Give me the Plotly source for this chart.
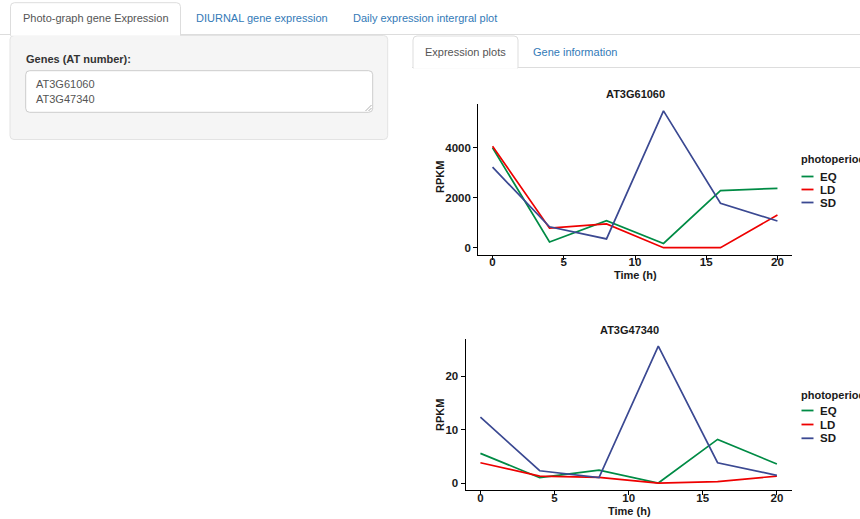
import plotly.graph_objects as go

# ---------------- data ----------------
hours = [0, 4, 8, 12, 16, 20]
photoperiods = ["EQ", "LD", "SD"]
genes = ["AT3G61060", "AT3G47340"]

gene1_EQ = [4010, 230, 1080, 170, 2290, 2380]
gene1_LD = [4070, 780, 950, 0, 0, 1310]
gene1_SD = [3230, 840, 350, 5490, 1780, 1070]

gene2_EQ = [5.55, 1.0, 2.43, 0.0, 8.15, 3.55]
gene2_LD = [3.8, 1.3, 1.05, 0.0, 0.25, 1.3]
gene2_SD = [12.3, 2.3, 1.0, 25.6, 3.8, 1.43]

x_ticks = [0, 5, 10, 15, 20]
y1_ticks = [0, 2000, 4000]
y2_ticks = [0, 10, 20]

main_tabs = ["Photo-graph gene Expression", "DIURNAL gene expression", "Daily expression intergral plot"]
sub_tabs = ["Expression plots", "Gene information"]
input_label = "Genes (AT number):"

colors = {"EQ": "#008B45", "LD": "#EE0000", "SD": "#3B4992"}

W, H = 860, 519
FONT = "Liberation Sans, Arial, sans-serif"


def X(px):
    return px / W


def Y(py):
    return 1 - py / H


def rrect(x0, y0, x1, y1, r, top_only=False):
    # rounded rectangle path in paper coordinates (pixel inputs)
    rb = 0 if top_only else r
    p = f"M {X(x0 + r)},{Y(y0)} L {X(x1 - r)},{Y(y0)} Q {X(x1)},{Y(y0)} {X(x1)},{Y(y0 + r)} "
    p += f"L {X(x1)},{Y(y1 - rb)} "
    if rb:
        p += f"Q {X(x1)},{Y(y1)} {X(x1 - rb)},{Y(y1)} "
    p += f"L {X(x0 + rb)},{Y(y1)} "
    if rb:
        p += f"Q {X(x0)},{Y(y1)} {X(x0)},{Y(y1 - rb)} "
    p += f"L {X(x0)},{Y(y0 + r)} Q {X(x0)},{Y(y0)} {X(x0 + r)},{Y(y0)} Z"
    return p


def expand(vals):
    lo, hi = min(vals), max(vals)
    e = (hi - lo) * 0.05
    return [lo - e, hi + e]


fig = go.Figure()

series1 = {"EQ": gene1_EQ, "LD": gene1_LD, "SD": gene1_SD}
series2 = {"EQ": gene2_EQ, "LD": gene2_LD, "SD": gene2_SD}

for p in photoperiods:
    fig.add_trace(go.Scatter(x=hours, y=series1[p], mode="lines", name=p,
                             line=dict(color=colors[p], width=1.7),
                             xaxis="x", yaxis="y", showlegend=False))
for p in photoperiods:
    fig.add_trace(go.Scatter(x=hours, y=series2[p], mode="lines", name=p,
                             line=dict(color=colors[p], width=1.7),
                             xaxis="x2", yaxis="y2", showlegend=False))

all1 = gene1_EQ + gene1_LD + gene1_SD
all2 = gene2_EQ + gene2_LD + gene2_SD

tickfont = dict(family=FONT, size=11.5, color="#1a1a1a", weight="bold")
axis_common = dict(showline=True, linecolor="black", linewidth=1.2, ticks="outside",
                   ticklen=4, tickwidth=1.1, tickcolor="black", showgrid=False,
                   zeroline=False, tickfont=tickfont, mirror=False, fixedrange=True)

fig.update_layout(
    width=W, height=H, margin=dict(l=0, r=0, t=0, b=0),
    paper_bgcolor="white", plot_bgcolor="white", showlegend=False,
    font=dict(family=FONT),
    xaxis=dict(domain=[X(478.3), X(791.7)], range=expand(hours), tickvals=x_ticks,
               anchor="y", ticklabelstandoff=-7, **axis_common),
    yaxis=dict(domain=[Y(254.5), Y(104.0)], range=expand(all1), tickvals=y1_ticks,
               anchor="x", **axis_common),
    xaxis2=dict(domain=[X(465.6), X(791.7)], range=expand(hours), tickvals=x_ticks,
                anchor="y2", ticklabelstandoff=-7, **axis_common),
    yaxis2=dict(domain=[Y(489.9), Y(339.2)], range=expand(all2), tickvals=y2_ticks,
                anchor="x2", **axis_common),
)

shapes = []
ann = []


def text(x, y, s, size=11, color="#333", bold=False, xanchor="left", angle=0):
    ann.append(dict(x=X(x), y=Y(y), xref="paper", yref="paper", text=s, showarrow=False,
                    xanchor=xanchor, yanchor="middle", textangle=angle,
                    borderpad=0, borderwidth=0,
                    font=dict(family=FONT, size=size, color=color,
                              weight="bold" if bold else "normal")))


def line(x0, y0, x1, y1, color, width=1):
    shapes.append(dict(type="line", xref="paper", yref="paper", x0=X(x0), y0=Y(y0),
                       x1=X(x1), y1=Y(y1), line=dict(color=color, width=width)))


# ---- main tabs ----
line(0, 34.5, 860, 34.5, "#dddddd")
shapes.append(dict(type="path", xref="paper", yref="paper",
                   path=rrect(10.5, 2.7, 180.5, 35.5, 4, top_only=True),
                   fillcolor="white", line=dict(color="#dddddd", width=1), layer="below"))
line(11, 34.8, 180, 34.8, "white", 2)
text(22.5, 18.5, main_tabs[0], color="#555555")
text(196, 18.5, main_tabs[1], color="#337ab7")
text(353, 18.5, main_tabs[2], color="#337ab7")

# ---- well panel ----
shapes.append(dict(type="path", xref="paper", yref="paper",
                   path=rrect(10, 35.5, 387.7, 139.5, 4),
                   fillcolor="#f5f5f5", line=dict(color="#e3e3e3", width=1), layer="below"))
text(25.5, 59, input_label, color="#333333", bold=True)
shapes.append(dict(type="path", xref="paper", yref="paper",
                   path=rrect(25.7, 70.7, 372.7, 112.3, 4),
                   fillcolor="white", line=dict(color="#cccccc", width=1), layer="below"))
text(35.5, 84, genes[0], color="#555555")
text(35.5, 99.5, genes[1], color="#555555")
line(365.5, 111, 371.5, 105, "#999999", 0.8)
line(368.5, 111, 371.5, 108, "#999999", 0.8)

# ---- sub tabs ----
line(412, 67.5, 860, 67.5, "#dddddd")
shapes.append(dict(type="path", xref="paper", yref="paper",
                   path=rrect(413, 36, 518, 68, 4, top_only=True),
                   fillcolor="white", line=dict(color="#dddddd", width=1), layer="below"))
line(413.6, 67.8, 517.4, 67.8, "white", 2)
text(424.5, 51.5, sub_tabs[0], color="#555555")
text(533, 51.5, sub_tabs[1], color="#337ab7")

# ---- chart titles & axis titles ----
text(635, 94, genes[0], size=11, color="#1a1a1a", bold=True, xanchor="center")
text(629, 329.5, genes[1], size=11, color="#1a1a1a", bold=True, xanchor="center")
text(635, 275, "Time (h)", size=11, color="#1a1a1a", bold=True, xanchor="center")
text(629, 511, "Time (h)", size=11, color="#1a1a1a", bold=True, xanchor="center")
text(440, 177, "RPKM", size=11, color="#1a1a1a", bold=True, xanchor="center", angle=-90)
text(440, 415, "RPKM", size=11, color="#1a1a1a", bold=True, xanchor="center", angle=-90)

# ---- legends ----
for (ty, ys) in [(159, [176.5, 189.5, 202.5]), (395, [410.5, 424.5, 438.3])]:
    text(800.5, ty, "photoperiod", size=11, color="#1a1a1a", bold=True)
    for p, yy in zip(photoperiods, ys):
        line(801.5, yy, 813.5, yy, colors[p], 1.8)
        text(820, yy, p, size=11.5, color="#1a1a1a", bold=True)

fig.update_layout(shapes=shapes, annotations=ann)
fig.write_html("out.html", config={"displayModeBar": False},
               post_script="document.body.style.margin='0';document.body.style.overflow='hidden';")
